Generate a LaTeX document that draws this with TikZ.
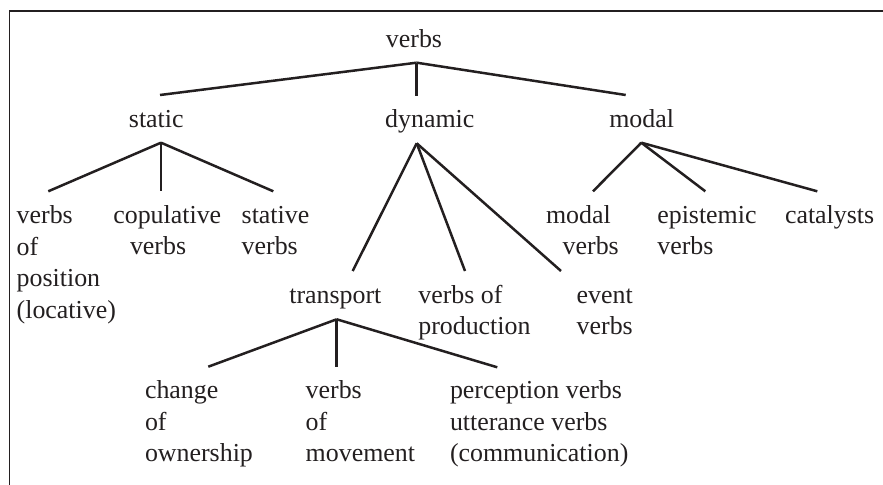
\documentclass[tikz,border=0pt]{standalone}
\usepackage{fontspec}
\setmainfont{Liberation Serif}
\definecolor{ink}{HTML}{231F20}
\begin{document}
\begin{tikzpicture}[x=1bp,y=-1bp,
  lbl/.style={inner sep=0pt, outer sep=0pt, font=\fontsize{26}{31.7}\selectfont, align=left, text=ink},
  conn/.style={line width=2.5bp, draw=ink},
  frame/.style={line width=1.3bp, draw=ink}]
\useasboundingbox (0,0) rectangle (883,485);
% frame (top and left edges only)
\coordinate (frameTR) at (883,11);
\coordinate (frameTL) at (9.5,11);
\coordinate (frameBL) at (9.5,485);
\draw[frame] (frameTR) -- (frameTL) -- (frameBL);
% labels (multi-line nodes are placed by the baseline of their last line)
\node[lbl, anchor=base] (verbs) at (414,47.7) {verbs};
\node[lbl, anchor=base] (static) at (156.3,127.7) {static};
\node[lbl, anchor=base] (dynamic) at (429.8,127.7) {dynamic};
\node[lbl, anchor=base] (modal) at (641.7,127.7) {modal};
\node[lbl, anchor=base west] (position) at (16.7,318.4) {verbs\\of\\position\\(locative)};
\node[lbl, anchor=base west] (copulative) at (113.3,255) {copulative\\\hspace*{16.7bp}verbs};
\node[lbl, anchor=base west] (stative) at (241.7,255) {stative\\verbs};
\node[lbl, anchor=base west] (modalverbs) at (546,255) {modal\\\hspace*{16.7bp}verbs};
\node[lbl, anchor=base west] (epistemic) at (657.3,255) {epistemic\\verbs};
\node[lbl, anchor=base west] (catalysts) at (785,223.3) {catalysts};
\node[lbl, anchor=base west] (transport) at (289.3,303.3) {transport};
\node[lbl, anchor=base west] (production) at (418.3,335) {verbs of\\production};
\node[lbl, anchor=base west] (event) at (576.7,335) {event\\verbs};
\node[lbl, anchor=base west] (ownership) at (145,461.7) {change\\of\\ownership};
\node[lbl, anchor=base west] (movement) at (305.7,461.7) {verbs\\of\\movement};
\node[lbl, anchor=base west] (perception) at (450,461.7) {perception verbs\\utterance verbs\\(communication)};
% attachment points
\coordinate (verbsRoot) at (416.7,62.7);
\coordinate (staticTop) at (160,95);
\coordinate (dynamicTop) at (416.7,95.7);
\coordinate (modalTop) at (625.7,95);
\coordinate (staticRoot) at (161,142.7);
\coordinate (positionTop) at (48.3,191.3);
\coordinate (copulativeTop) at (161,191.3);
\coordinate (stativeTop) at (273.3,191.3);
\coordinate (dynamicRoot) at (416.7,143.3);
\coordinate (transportTop) at (352.7,271);
\coordinate (productionTop) at (465,271);
\coordinate (eventTop) at (561,271);
\coordinate (modalRoot) at (641.3,142.7);
\coordinate (modalverbsTop) at (593,191.3);
\coordinate (epistemicTop) at (705.3,191.3);
\coordinate (catalystsTop) at (817.3,191.3);
\coordinate (transportRoot) at (336.7,319.3);
\coordinate (ownershipTop) at (208.3,366.7);
\coordinate (movementTop) at (336.7,367.3);
\coordinate (perceptionTop) at (497.3,367.3);
% connectors
\draw[conn] (verbsRoot) -- (staticTop);
\draw[conn] (verbsRoot) -- (dynamicTop);
\draw[conn] (verbsRoot) -- (modalTop);
\draw[conn] (staticRoot) -- (positionTop);
\draw[conn] (staticRoot) -- (copulativeTop);
\draw[conn] (staticRoot) -- (stativeTop);
\draw[conn] (dynamicRoot) -- (transportTop);
\draw[conn] (dynamicRoot) -- (productionTop);
\draw[conn] (dynamicRoot) -- (eventTop);
\draw[conn] (modalRoot) -- (modalverbsTop);
\draw[conn] (modalRoot) -- (epistemicTop);
\draw[conn] (modalRoot) -- (catalystsTop);
\draw[conn] (transportRoot) -- (ownershipTop);
\draw[conn] (transportRoot) -- (movementTop);
\draw[conn] (transportRoot) -- (perceptionTop);
\end{tikzpicture}
\end{document}
